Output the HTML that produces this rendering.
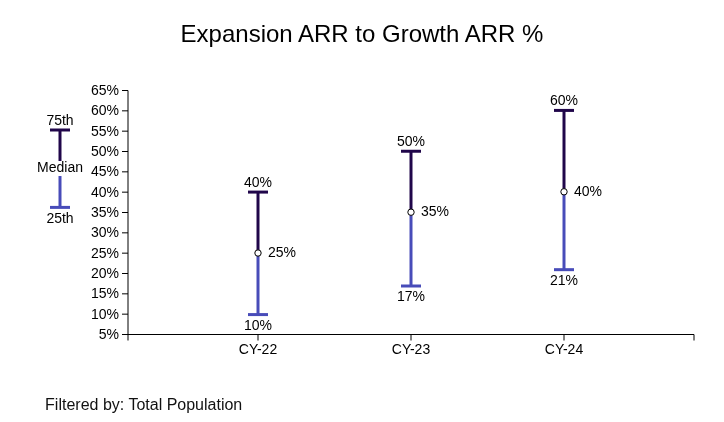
<!DOCTYPE html>
<html><head><meta charset="utf-8"><style>
html,body{margin:0;padding:0;background:#fff;}
body{width:724px;height:422px;overflow:hidden;}
svg{display:block;will-change:transform;}
text{font-family:"Liberation Sans",Arial,sans-serif;font-size:14px;fill:#000;}
</style></head><body>
<svg width="724" height="422" viewBox="0 0 724 422">
  <text x="362" y="42" text-anchor="middle" style="font-size:24px">Expansion ARR to Growth ARR %</text>
  <g stroke="#000" fill="none">
    <path d="M122,90.5H128V334.5H122"/>
    <line x1="122" y1="90.50" x2="128" y2="90.50"/><line x1="122" y1="110.83" x2="128" y2="110.83"/><line x1="122" y1="131.17" x2="128" y2="131.17"/><line x1="122" y1="151.50" x2="128" y2="151.50"/><line x1="122" y1="171.83" x2="128" y2="171.83"/><line x1="122" y1="192.17" x2="128" y2="192.17"/><line x1="122" y1="212.50" x2="128" y2="212.50"/><line x1="122" y1="232.83" x2="128" y2="232.83"/><line x1="122" y1="253.17" x2="128" y2="253.17"/><line x1="122" y1="273.50" x2="128" y2="273.50"/><line x1="122" y1="293.83" x2="128" y2="293.83"/><line x1="122" y1="314.17" x2="128" y2="314.17"/><line x1="122" y1="334.50" x2="128" y2="334.50"/>
    <path d="M128,340.5V334.5H694V340.5"/>
  </g>
  <g text-anchor="end"><text x="119" y="95.00">65%</text><text x="119" y="115.33">60%</text><text x="119" y="135.67">55%</text><text x="119" y="156.00">50%</text><text x="119" y="176.33">45%</text><text x="119" y="196.67">40%</text><text x="119" y="217.00">35%</text><text x="119" y="237.33">30%</text><text x="119" y="257.67">25%</text><text x="119" y="278.00">20%</text><text x="119" y="298.33">15%</text><text x="119" y="318.67">10%</text><text x="119" y="339.00">5%</text></g>
  <text x="60" y="125" text-anchor="middle">75th</text>
  <line x1="50" y1="130" x2="70" y2="130" stroke="#20064a" stroke-width="3"/>
  <line x1="60" y1="130" x2="60" y2="161" stroke="#20064a" stroke-width="3"/>
  <text x="60" y="171.5" text-anchor="middle">Median</text>
  <line x1="60" y1="176" x2="60" y2="207.4" stroke="#484cb9" stroke-width="3"/>
  <line x1="50" y1="207.4" x2="70" y2="207.4" stroke="#484cb9" stroke-width="3"/>
  <text x="60" y="222.5" text-anchor="middle">25th</text>
  
  <line x1="258" y1="192.08" x2="258" y2="253.33" stroke="#20064a" stroke-width="3"/>
  <line x1="258" y1="253.33" x2="258" y2="314.58" stroke="#484cb9" stroke-width="3"/>
  <line x1="248" y1="192.08" x2="268" y2="192.08" stroke="#20064a" stroke-width="3"/>
  <line x1="248" y1="314.58" x2="268" y2="314.58" stroke="#484cb9" stroke-width="3"/>
  <circle cx="258" cy="253.03" r="3.2" fill="#fff" stroke="#000" stroke-width="1"/>
  <text x="258" y="186.88" text-anchor="middle">40%</text>
  <text x="258" y="329.78" text-anchor="middle">10%</text>
  <text x="268" y="257.13">25%</text>
  <line x1="258" y1="334.5" x2="258" y2="340.5" stroke="#000"/>
  <text x="258" y="353.5" text-anchor="middle">CY-22</text>
  <line x1="411" y1="151.25" x2="411" y2="212.50" stroke="#20064a" stroke-width="3"/>
  <line x1="411" y1="212.50" x2="411" y2="286.00" stroke="#484cb9" stroke-width="3"/>
  <line x1="401" y1="151.25" x2="421" y2="151.25" stroke="#20064a" stroke-width="3"/>
  <line x1="401" y1="286.00" x2="421" y2="286.00" stroke="#484cb9" stroke-width="3"/>
  <circle cx="411" cy="212.20" r="3.2" fill="#fff" stroke="#000" stroke-width="1"/>
  <text x="411" y="146.05" text-anchor="middle">50%</text>
  <text x="411" y="301.20" text-anchor="middle">17%</text>
  <text x="421" y="216.30">35%</text>
  <line x1="411" y1="334.5" x2="411" y2="340.5" stroke="#000"/>
  <text x="411" y="353.5" text-anchor="middle">CY-23</text>
  <line x1="564" y1="110.42" x2="564" y2="192.08" stroke="#20064a" stroke-width="3"/>
  <line x1="564" y1="192.08" x2="564" y2="269.67" stroke="#484cb9" stroke-width="3"/>
  <line x1="554" y1="110.42" x2="574" y2="110.42" stroke="#20064a" stroke-width="3"/>
  <line x1="554" y1="269.67" x2="574" y2="269.67" stroke="#484cb9" stroke-width="3"/>
  <circle cx="564" cy="191.78" r="3.2" fill="#fff" stroke="#000" stroke-width="1"/>
  <text x="564" y="105.22" text-anchor="middle">60%</text>
  <text x="564" y="284.87" text-anchor="middle">21%</text>
  <text x="574" y="195.88">40%</text>
  <line x1="564" y1="334.5" x2="564" y2="340.5" stroke="#000"/>
  <text x="564" y="353.5" text-anchor="middle">CY-24</text>
  <text x="45.1" y="410" style="font-size:16px;fill:#111">Filtered by: Total Population</text>
</svg>
</body></html>
